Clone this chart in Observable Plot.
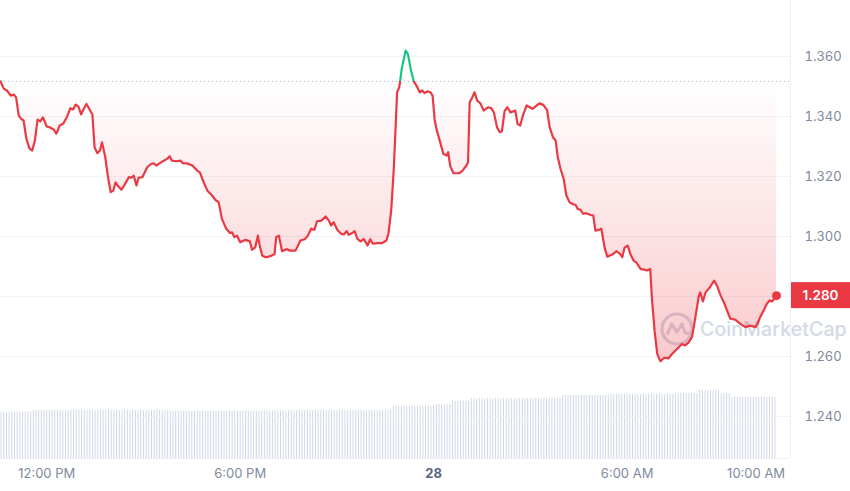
<!DOCTYPE html>
<html><head><meta charset="utf-8">
<script src="https://cdn.jsdelivr.net/npm/d3@7"></script>
<script src="https://cdn.jsdelivr.net/npm/@observablehq/plot@0.6"></script>
<style>
body{margin:0;background:#fff;font-family:Inter,"Noto Sans",sans-serif;}
#wrap{position:relative;width:850px;height:491px;overflow:hidden;background:#fff;}
#wrap > svg, #wrap > div{position:absolute;left:0;top:0;}
</style></head><body><div id="wrap"></div>
<script>
// ---- data ----
const priceTimes = ["27T10:34","27T10:40","27T10:46","27T10:53","27T10:59","27T11:03","27T11:08","27T11:12","27T11:17","27T11:22","27T11:28","27T11:33","27T11:38","27T11:43","27T11:48","27T11:53","27T12:00","27T12:07","27T12:13","27T12:18","27T12:24","27T12:31","27T12:38","27T12:44","27T12:49","27T12:54","27T12:59","27T13:04","27T13:09","27T13:14","27T13:19","27T13:25","27T13:29","27T13:34","27T13:39","27T13:43","27T13:49","27T13:54","27T13:59","27T14:04","27T14:08","27T14:12","27T14:19","27T14:25","27T14:33","27T14:37","27T14:42","27T14:47","27T14:51","27T14:58","27T15:07","27T15:14","27T15:19","27T15:24","27T15:30","27T15:38","27T15:44","27T15:49","27T15:53","27T16:01","27T16:09","27T16:14","27T16:21","27T16:31","27T16:40","27T16:45","27T16:52","27T16:59","27T17:06","27T17:14","27T17:20","27T17:26","27T17:34","27T17:41","27T17:45","27T17:49","27T17:54","27T18:00","27T18:10","27T18:18","27T18:22","27T18:28","27T18:33","27T18:36","27T18:41","27T18:47","27T18:53","27T18:59","27T19:04","27T19:07","27T19:12","27T19:18","27T19:26","27T19:33","27T19:43","27T19:52","27T20:00","27T20:06","27T20:12","27T20:18","27T20:23","27T20:31","27T20:39","27T20:45","27T20:49","27T20:54","27T21:01","27T21:08","27T21:13","27T21:18","27T21:22","27T21:28","27T21:33","27T21:38","27T21:44","27T21:50","27T21:57","27T22:02","27T22:07","27T22:15","27T22:24","27T22:32","27T22:36","27T22:41","27T22:46","27T22:52","27T22:56","27T23:01","27T23:08","27T23:12","27T23:18","27T23:23","27T23:29","27T23:34","27T23:39","27T23:43","27T23:48","27T23:54","27T23:58","28T00:02","28T00:06","28T00:13","28T00:18","28T00:24","28T00:27","28T00:31","28T00:37","28T00:47","28T00:53","28T01:01","28T01:04","28T01:07","28T01:12","28T01:16","28T01:21","28T01:27","28T01:33","28T01:41","28T01:47","28T01:52","28T01:58","28T02:03","28T02:07","28T02:12","28T02:17","28T02:23","28T02:32","28T02:36","28T02:41","28T02:46","28T02:53","28T02:59","28T03:04","28T03:09","28T03:17","28T03:24","28T03:31","28T03:36","28T03:42","28T03:47","28T03:51","28T03:56","28T04:02","28T04:07","28T04:13","28T04:20","28T04:24","28T04:28","28T04:33","28T04:38","28T04:44","28T04:52","28T04:57","28T05:01","28T05:07","28T05:12","28T05:18","28T05:23","28T05:28","28T05:34","28T05:40","28T05:46","28T05:51","28T05:55","28T06:01","28T06:06","28T06:12","28T06:17","28T06:25","28T06:37","28T06:43","28T06:46","28T06:51","28T06:56","28T07:02","28T07:09","28T07:17","28T07:24","28T07:30","28T07:36","28T07:42","28T07:48","28T07:55","28T08:01","28T08:07","28T08:13","28T08:16","28T08:21","28T08:26","28T08:34","28T08:42","28T08:47","28T08:54","28T09:00","28T09:06","28T09:12","28T09:21","28T09:31","28T09:40","28T09:49","28T09:59","28T10:03","28T10:08","28T10:14","28T10:20","28T10:25","28T10:30","28T10:38"];
const priceValues = [1.3518,1.3493,1.3487,1.3470,1.3473,1.3464,1.3403,1.3393,1.3387,1.3327,1.3293,1.3287,1.3320,1.3390,1.3384,1.3397,1.3367,1.3363,1.3357,1.3343,1.3370,1.3377,1.3400,1.3428,1.3424,1.3440,1.3433,1.3407,1.3426,1.3442,1.3426,1.3407,1.3298,1.3278,1.3287,1.3314,1.3264,1.3198,1.3148,1.3153,1.3181,1.3170,1.3156,1.3173,1.3198,1.3196,1.3203,1.3170,1.3196,1.3198,1.3231,1.3242,1.3244,1.3237,1.3244,1.3253,1.3259,1.3268,1.3253,1.3251,1.3253,1.3244,1.3244,1.3237,1.3220,1.3214,1.3181,1.3153,1.3140,1.3122,1.3114,1.3059,1.3026,1.3012,1.3014,1.2998,1.3003,1.2981,1.2989,1.2984,1.2956,1.2964,1.3003,1.2973,1.2937,1.2931,1.2933,1.2937,1.2942,1.2998,1.3003,1.2951,1.2958,1.2953,1.2953,1.2987,1.2991,1.3003,1.3026,1.3022,1.3051,1.3053,1.3067,1.3053,1.3037,1.3048,1.3022,1.3009,1.3007,1.3018,1.3006,1.3011,1.3018,1.2992,1.2984,1.2992,1.2970,1.2991,1.2976,1.2978,1.2978,1.2987,1.3011,1.3087,1.3231,1.3481,1.3498,1.3564,1.3620,1.3609,1.3553,1.3518,1.3500,1.3481,1.3487,1.3478,1.3484,1.3481,1.3470,1.3387,1.3353,1.3309,1.3276,1.3270,1.3281,1.3234,1.3211,1.3211,1.3218,1.3237,1.3248,1.3448,1.3464,1.3481,1.3453,1.3444,1.3420,1.3431,1.3428,1.3414,1.3364,1.3348,1.3351,1.3418,1.3431,1.3414,1.3420,1.3376,1.3370,1.3403,1.3437,1.3431,1.3426,1.3433,1.3444,1.3439,1.3422,1.3364,1.3331,1.3320,1.3264,1.3226,1.3192,1.3137,1.3114,1.3107,1.3106,1.3092,1.3090,1.3076,1.3078,1.3072,1.3070,1.3020,1.3022,1.3026,1.2964,1.2933,1.2937,1.2942,1.2951,1.2944,1.2931,1.2962,1.2970,1.2942,1.2920,1.2914,1.2892,1.2887,1.2892,1.2798,1.2687,1.2609,1.2584,1.2596,1.2594,1.2609,1.2620,1.2631,1.2642,1.2637,1.2648,1.2667,1.2731,1.2798,1.2814,1.2784,1.2814,1.2831,1.2853,1.2837,1.2803,1.2781,1.2753,1.2726,1.2723,1.2709,1.2698,1.2703,1.2698,1.2711,1.2733,1.2753,1.2776,1.2787,1.2784,1.2803];
const openPrice = 1.3517;
const yTicks = [1.24, 1.26, 1.28, 1.30, 1.32, 1.34, 1.36];
const xTickTimes = ["27T12:00","27T18:00","28T00:00","28T06:00","28T10:00"];
const xTickLabels = ["12:00 PM","6:00 PM","28","6:00 AM","10:00 AM"];
const xTickBold = [false,false,true,false,false];
const xDomainTimes = ["27T10:34","28T11:04"];
const yDomain = [1.226, 1.3787];
const volStart = "27T10:35";
const volStepMinutes = 5;
const volumes = [
42.1,42.1,42.0,42.1,42.2,42.1,42.1,42.2,42.2,42.3,42.3,42.4,
43.5,43.6,43.6,43.6,43.7,43.6,43.6,43.6,43.6,43.7,43.7,43.7,
43.7,43.8,43.8,43.9,44.0,44.0,44.0,43.9,43.9,43.9,43.8,43.8,
43.8,43.8,43.9,43.9,43.9,43.8,43.8,43.8,43.8,43.9,43.9,43.9,
43.9,43.8,43.8,43.8,43.7,43.7,43.7,43.6,43.6,43.6,43.6,43.6,
43.5,43.4,43.3,43.3,43.2,43.2,43.1,43.1,43.1,43.0,43.0,43.0,
43.0,43.0,42.9,42.9,42.9,42.8,42.8,42.8,42.8,42.9,42.9,42.9,
42.9,43.0,43.0,43.0,43.1,43.1,43.2,43.2,43.2,43.2,43.3,43.3,
43.3,43.3,43.3,43.3,43.2,43.2,43.2,43.2,43.3,43.3,43.3,43.3,
43.3,43.4,43.4,43.5,43.5,43.5,43.5,43.6,43.6,43.6,43.6,43.6,
43.6,43.7,43.7,43.7,43.7,43.7,43.7,43.7,43.7,43.7,43.7,43.8,
43.8,43.8,43.8,43.8,43.8,43.8,43.8,43.8,43.8,43.8,43.8,43.8,
43.9,44.5,47.3,47.3,47.3,47.3,47.3,47.3,47.3,47.3,47.4,47.4,
47.4,47.4,47.5,47.5,47.5,47.5,48.8,48.8,48.8,48.8,49.0,49.0,
52.1,52.1,52.1,52.1,52.1,52.1,52.1,54.3,54.3,54.3,54.3,54.3,
54.3,54.3,54.3,54.3,54.3,54.3,54.3,54.3,54.3,54.3,54.3,54.3,
54.4,54.4,54.4,54.4,54.4,54.4,54.4,54.4,54.4,54.4,54.4,54.4,
54.6,54.6,54.6,54.6,54.6,57.3,57.3,57.3,57.3,57.3,57.3,57.3,
57.3,57.3,57.3,57.3,57.3,57.3,57.3,57.3,57.3,57.3,57.3,58.2,
58.2,58.2,58.2,58.2,58.2,58.2,58.2,58.2,58.2,58.2,58.2,58.2,
58.4,58.4,58.4,58.4,58.4,58.4,58.4,58.4,58.4,58.4,58.4,58.4,
59.0,59.0,59.0,59.0,59.0,59.0,59.0,59.0,61.8,61.8,61.8,61.8,
61.8,61.8,61.8,61.8,58.8,58.8,58.8,58.8,55.7,55.7,55.7,55.7,
55.7,55.7,55.7,55.7,55.7,55.7,55.7,55.7,55.7,55.7,55.7,55.7,
55.7];
const volDomain = [0, 80];

// ---- helpers ----
const RED = "#ea3943", GREEN = "#16c784";
function parseT(s) { return new Date(2021, 3, +s.slice(0,2), +s.slice(3,5), +s.slice(6,8)); }
const priceData = priceTimes.map((t, i) => ({date: parseT(t), price: priceValues[i]}));
const v0 = parseT(volStart);
const volData = volumes.map((v, i) => ({date: new Date(v0.getTime() + i * volStepMinutes * 60000), vol: v}));
const xTicks = xTickTimes.map((t, i) => ({date: parseT(t), label: xTickLabels[i], bold: xTickBold[i]}));
const xDomain = xDomainTimes.map(parseT);
const last = priceData[priceData.length - 1];
const lastLabel = last.price.toFixed(3);
// the axis label hidden behind the current-price tag is left to the tag
const axisTicks = yTicks.filter(t => t.toFixed(3) !== lastLabel);

const W = 850, H = 491, MR = 60, MB = 33;
const wrap = document.getElementById("wrap");

// volume layer
const volPlot = Plot.plot({
  width: W, height: H, marginLeft: 0, marginRight: MR, marginTop: 370, marginBottom: MB,
  style: {background: "white"},
  x: {type: "time", domain: xDomain, axis: null},
  y: {domain: volDomain, axis: null},
  marks: [
    Plot.ruleX(volData, {x: "date", y1: 0, y2: "vol", stroke: "#d0d7e4", strokeWidth: 1})
  ]
});
wrap.appendChild(volPlot);

// watermark
const wm = document.createElement("div");
wm.style.cssText = "left:659px;top:311px;display:flex;align-items:center;gap:5px;color:#d3d9e5;font:500 19.5px Inter,sans-serif;letter-spacing:0.1px;";
wm.innerHTML = '<svg width="36" height="36" viewBox="0 0 36 36"><circle cx="18" cy="18" r="15" fill="none" stroke="#d3d9e5" stroke-width="3.2"/><path d="M8.5 22.5 L12.5 13 L18 21 L23 13 L26 21 Q28 24 32 21" fill="none" stroke="#d3d9e5" stroke-width="3.2" stroke-linejoin="round" stroke-linecap="round"/></svg><span>CoinMarketCap</span>';
wrap.appendChild(wm);

// main layer
const main = Plot.plot({
  width: W, height: H, marginLeft: 0, marginRight: MR, marginTop: 0, marginBottom: MB,
  style: {background: "transparent", fontFamily: "Inter, sans-serif", fontSize: "13px", color: "#808a9d"},
  x: {type: "time", domain: xDomain, axis: null},
  y: {domain: yDomain, axis: "right", ticks: axisTicks, tickSize: 0, tickPadding: 14, tickFormat: d => d.toFixed(3), label: null},
  marks: [
    Plot.ruleY(yTicks, {stroke: "#f1f3f6", strokeWidth: 1}),
    Plot.ruleX([xDomain[1]], {stroke: "#eef0f3"}),
    Plot.ruleY([yDomain[0]], {stroke: "#eef0f3"}),
    Plot.areaY(priceData, {x: "date", y1: d => openPrice, y2: d => Math.min(d.price, openPrice), fill: "url(#cmcFill)"}),
    Plot.ruleY([openPrice], {stroke: "#a7b1c2", strokeDasharray: "1,3", strokeWidth: 1}),
    Plot.line(priceData, {x: "date", y: "price", stroke: "url(#cmcStroke)", strokeWidth: 2.2, strokeLinejoin: "round", strokeLinecap: "round"}),
    Plot.dot([last], {x: "date", y: "price", r: 4.5, fill: RED}),
    Plot.text(xTicks.filter(d => !d.bold), {x: "date", text: "label", frameAnchor: "bottom", dy: 19, fill: "#808a9d", fontSize: 13}),
    Plot.text(xTicks.filter(d => d.bold), {x: "date", text: "label", frameAnchor: "bottom", dy: 19, fill: "#58667e", fontSize: 13, fontWeight: 700})
  ]
});
wrap.appendChild(main);

// gradients + price tag from the plot's own scales
const yS = main.scale("y"), xS = main.scale("x");
const yb = yS.apply(openPrice);
const ns = "http://www.w3.org/2000/svg";
const defs = document.createElementNS(ns, "defs");
defs.innerHTML =
  '<linearGradient id="cmcFill" x1="0" y1="0" x2="0" y2="1">' +
  '<stop offset="0" stop-color="' + RED + '" stop-opacity="0"/>' +
  '<stop offset="1" stop-color="' + RED + '" stop-opacity="0.27"/></linearGradient>' +
  '<linearGradient id="cmcStroke" gradientUnits="userSpaceOnUse" x1="0" y1="0" x2="0" y2="' + H + '">' +
  '<stop offset="' + (yb / H) + '" stop-color="' + GREEN + '"/>' +
  '<stop offset="' + (yb / H) + '" stop-color="' + RED + '"/></linearGradient>';
main.insertBefore(defs, main.firstChild);

const yLast = yS.apply(last.price);
const xRight = xS.range[1];
const tag = document.createElementNS(ns, "g");
tag.innerHTML =
  '<rect x="' + (xRight + 1) + '" y="' + (yLast - 13) + '" width="' + (W - xRight - 1) + '" height="26" fill="' + RED + '"/>' +
  '<text x="' + ((xRight + 1 + W) / 2) + '" y="' + yLast + '" dy="0.35em" text-anchor="middle" fill="#fff" font-size="13.5" font-weight="600" font-family="Inter, sans-serif">' + lastLabel + '</text>';
main.appendChild(tag);
</script></body></html>
